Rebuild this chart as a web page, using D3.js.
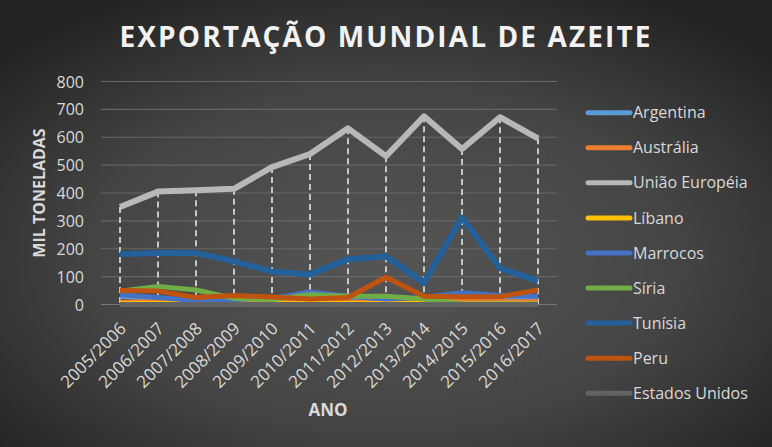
<!DOCTYPE html>
<html>
<head>
<meta charset="utf-8">
<script src="https://cdn.jsdelivr.net/npm/d3@7"></script>
<style>
html,body{margin:0;padding:0;background:#333;}
svg{display:block;font-family:"Open Sans",sans-serif;}
</style>
</head>
<body>
<svg id="chart" width="772" height="447"></svg>
<script>
const categories = ["2005/2006","2006/2007","2007/2008","2008/2009","2009/2010","2010/2011","2011/2012","2012/2013","2013/2014","2014/2015","2015/2016","2016/2017"];
const yTicks = [0,100,200,300,400,500,600,700,800];
const argentina = [30,20,12,15,18,32,22,15,20,28,20,18];
const australia = [8,10,10,8,8,10,8,8,10,12,10,10];
const uniaoEuropeia = [350,405,410,415,493,540,632,532,675,558,672,596];
const libano = [4,4,4,4,4,4,4,4,4,3,3,3];
const marrocos = [35,25,14,18,22,45,30,20,25,42,32,30];
const siria = [48,65,52,22,18,35,30,30,20,2,2,2];
const tunisia = [180,185,185,155,118,108,162,172,78,312,130,85];
const peru = [50,48,25,32,27,20,25,98,30,28,28,52];
const estadosUnidos = [0,0,0,0,0,0,0,0,0,0,0,0];

const seriesNames = ["Argentina","Austrália","União Européia","Líbano","Marrocos","Síria","Tunísia","Peru","Estados Unidos"];
const seriesValues = [argentina,australia,uniaoEuropeia,libano,marrocos,siria,tunisia,peru,estadosUnidos];
const seriesColors = ["#5B9BD5","#ED7D31","#B8B8B8","#FFC000","#4472C4","#70AD47","#24609A","#C0530F","#636363"];

const svg = d3.select("#chart");
const W = 772, H = 447;

const defs = svg.append("defs");
const rg = defs.append("radialGradient").attr("id","bg")
  .attr("cx","50%").attr("cy","58%").attr("r","68%");
rg.append("stop").attr("offset","0%").attr("stop-color","#555555");
rg.append("stop").attr("offset","55%").attr("stop-color","#454545");
rg.append("stop").attr("offset","100%").attr("stop-color","#222222");
svg.append("rect").attr("width",W).attr("height",H).attr("fill","url(#bg)");

const plot = {left:101, right:557, top:81.5, bottom:304.5};

const x = d3.scaleBand().domain(categories).range([plot.left, plot.right]).paddingInner(0).paddingOuter(0);
const y = d3.scaleLinear().domain([0,800]).range([plot.bottom, plot.top]);
const cx = c => x(c) + x.bandwidth()/2;

// gridlines
svg.append("g").selectAll("line").data(yTicks).join("line")
  .attr("x1",plot.left).attr("x2",plot.right)
  .attr("y1",d=>y(d)).attr("y2",d=>y(d))
  .attr("stroke",d=> d===0 ? "#767676" : "#666666").attr("stroke-width",1.2);

// y axis
const yAxis = d3.axisLeft(y).tickValues(yTicks).tickSize(0).tickPadding(0);
const gy = svg.append("g").attr("transform",`translate(84,0)`).call(yAxis);
gy.select(".domain").remove();
gy.selectAll("text").attr("fill","#d9d9d9").style("font-size","16px").style("font-family","'Open Sans',sans-serif").attr("dy","0.35em");

// x axis labels
const xAxis = d3.axisBottom(x).tickSize(0).tickPadding(0);
const gx = svg.append("g").attr("transform",`translate(0,${plot.bottom})`).call(xAxis);
gx.select(".domain").remove();
gx.selectAll(".tick text")
  .attr("fill","#d9d9d9").style("font-size","17px").style("font-family","'Open Sans',sans-serif")
  .attr("text-anchor","end")
  .attr("x",0).attr("y",0).attr("dy","0.35em")
  .attr("transform","translate(3,21) rotate(-45)");

// drop lines (from max of all series to the axis)
svg.append("g").selectAll("line").data(categories).join("line")
  .attr("x1",d=>cx(d)).attr("x2",d=>cx(d))
  .attr("y1",(d,i)=>y(d3.max(seriesValues,s=>s[i])))
  .attr("y2",plot.bottom)
  .attr("stroke","#d4d4d4").attr("stroke-width",1.8).attr("stroke-dasharray","6,4");

// lines
const line = d3.line().x((d,i)=>cx(categories[i])).y(d=>y(d));
svg.append("g").selectAll("path").data(seriesValues).join("path")
  .attr("d",d=>line(d))
  .attr("fill","none")
  .attr("stroke",(d,i)=>seriesColors[i])
  .attr("stroke-width",(d,i)=> (i===6 || i===2) ? 6 : 5)
  .attr("stroke-linejoin","round").attr("stroke-linecap","butt");

// title
svg.append("text").attr("x",385).attr("y",47).attr("text-anchor","middle")
  .attr("fill","#f2f2f2").style("font-size","28px").style("font-weight","700")
  .attr("textLength",531).attr("lengthAdjust","spacing")
  .text("EXPORTAÇÃO MUNDIAL DE AZEITE");

// axis titles
svg.append("text").attr("transform","translate(39,193) rotate(-90)")
  .attr("text-anchor","middle").attr("dy","0.35em")
  .attr("fill","#d9d9d9").style("font-size","16px").style("font-weight","700")
  .text("MIL TONELADAS");
svg.append("text").attr("x",328).attr("y",410).attr("text-anchor","middle").attr("dy","0.35em")
  .attr("fill","#d9d9d9").style("font-size","17px").style("font-weight","700")
  .text("ANO");

// legend
const lg = svg.append("g").selectAll("g").data(seriesNames).join("g")
  .attr("transform",(d,i)=>`translate(0,${112.7 + i*35.07})`);
lg.append("line").attr("x1",588).attr("x2",630).attr("y1",0).attr("y2",0)
  .attr("stroke",(d,i)=>seriesColors[i]).attr("stroke-width",5).attr("stroke-linecap","round");
lg.append("text").attr("x",633).attr("y",0).attr("dy","0.35em")
  .attr("fill","#d9d9d9").style("font-size","16px").text(d=>d);
</script>
</body>
</html>
